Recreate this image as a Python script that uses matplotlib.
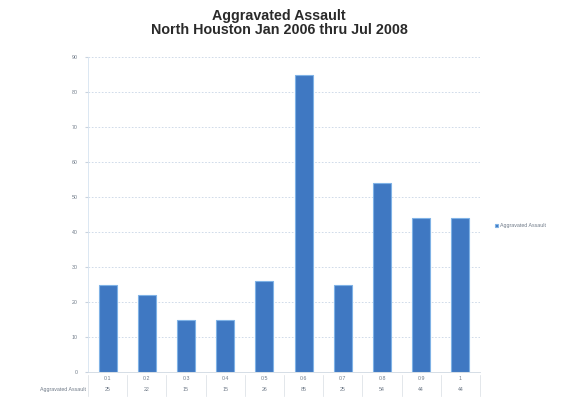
import matplotlib
matplotlib.use("Agg")
import matplotlib.pyplot as plt
import matplotlib.transforms as mtransforms

title = "Aggravated Assault\nNorth Houston Jan 2006 thru Jul 2008"
series_name = "Aggravated Assault"
categories = ["0.1", "0.2", "0.3", "0.4", "0.5", "0.6", "0.7", "0.8", "0.9", "1"]
values = [25, 22, 15, 15, 26, 85, 25, 54, 44, 44]
y_ticks = [0, 10, 20, 30, 40, 50, 60, 70, 80, 90]

bar_color = "#3f78c2"
edge_color = "#7fb2e6"
text_color = "#6f7a88"

plt.rcParams["font.family"] = ["Liberation Sans", "DejaVu Sans"]

fig = plt.figure(figsize=(5.70, 3.98), dpi=100)
ax = fig.add_axes([88 / 570, 1 - 372 / 398, 392 / 570, 315 / 398])

x = list(range(len(categories)))
ax.bar(x, values, width=0.46, color=bar_color, edgecolor=edge_color,
       linewidth=0.8, zorder=3, label=series_name)

ax.set_xlim(-0.5, len(categories) - 0.5)
ax.set_ylim(y_ticks[0], y_ticks[-1])
ax.set_yticks(y_ticks)
ax.set_yticklabels([str(t) for t in y_ticks], fontsize=3.8, color=text_color)
ax.yaxis.grid(True, color="#c9d6e6", linewidth=0.6, linestyle=(0, (2, 2)), zorder=0)
ax.tick_params(axis="y", length=2.5, color="#c9d3de", pad=5)

for s in ["top", "right"]:
    ax.spines[s].set_visible(False)
ax.spines["left"].set_color("#d6e3f0")
ax.spines["bottom"].set_color("#cfd8e2")
ax.spines["left"].set_linewidth(0.6)
ax.spines["bottom"].set_linewidth(0.6)

# category row of the data table
ax.set_xticks(x)
ax.set_xticklabels(categories, fontsize=3.8, color=text_color)
ax.tick_params(axis="x", length=0, pad=3)

# value row of the data table
trans = mtransforms.blended_transform_factory(ax.transData, ax.transAxes)
for xi, v in zip(x, values):
    ax.text(xi, -0.057, str(v), transform=trans, ha="center", va="center",
            fontsize=3.8, color=text_color)
ax.text(-0.56, -0.057, series_name, transform=trans, ha="right", va="center",
        fontsize=3.8, color=text_color)

# faint separators between table cells
for xb in [i - 0.5 for i in range(len(categories) + 1)]:
    ax.plot([xb, xb], [-0.01, -0.075], transform=trans, color="#d8dde3",
            linewidth=0.5, clip_on=False)

fig.suptitle(title, x=0.49, y=0.978, fontsize=10.3, fontweight="bold",
             color="#2a2a2a", linespacing=1.0)

leg = fig.legend(loc="center left", bbox_to_anchor=(490 / 570, 1 - 226 / 398),
                 frameon=False, fontsize=3.8, handlelength=0.6, handleheight=0.6,
                 handletextpad=0.4)
for t in leg.get_texts():
    t.set_color(text_color)

fig.savefig("out.png", dpi=100, facecolor="white")
